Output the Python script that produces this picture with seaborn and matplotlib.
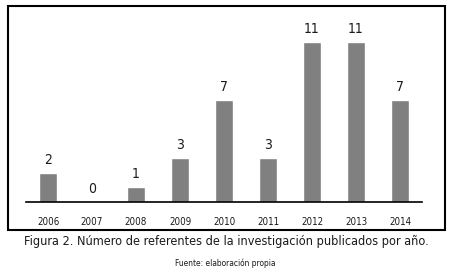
import matplotlib
matplotlib.use("Agg")
import matplotlib.pyplot as plt
import seaborn as sns
import pandas as pd
from matplotlib.patches import Rectangle

years = ["2006", "2007", "2008", "2009", "2010", "2011", "2012", "2013", "2014"]
counts = [2, 0, 1, 3, 7, 3, 11, 11, 7]

sns.set_style("white")
plt.rcParams['font.family'] = ['DejaVu Sans']
plt.rcParams['font.stretch'] = 'condensed'

W, H = 449, 278
fig = plt.figure(figsize=(W/100, H/100), dpi=100)
left, right = 26, 422
base, top = 202, 20
ax = fig.add_axes([left/W, (H-base)/H, (right-left)/W, (base-top)/H])

df = pd.DataFrame({"year": years, "count": counts})
sns.barplot(data=df, x="year", y="count", color="#808080", saturation=1,
            width=0.39, ax=ax)
ax.set_xlim(-0.5, len(years)-0.5)
ax.set_ylim(0, 182/14.55)
for i, v in enumerate(counts):
    ax.text(i, v + 0.9, str(v), ha="center", va="center", fontsize=10, color="#1a1a1a")
ax.set_xlabel("")
ax.set_ylabel("")
ax.set_yticks([])
ax.tick_params(axis="x", length=0, pad=11, labelsize=7, labelcolor="#1a1a1a")
for s in ["top", "right", "left"]:
    ax.spines[s].set_visible(False)
ax.spines["bottom"].set_color("black")
ax.spines["bottom"].set_linewidth(1.2)

fig.patches.append(Rectangle((8/W, (H-230)/H), (445-8)/W, (230-6)/H,
                             transform=fig.transFigure, fill=False,
                             edgecolor="black", linewidth=1.5))
fig.text(226/W, (H-241)/H, "Figura 2. Número de referentes de la investigación publicados por año.",
         ha="center", va="center", fontsize=9.1, color="#1a1a1a")
fig.text(225/W, (H-263)/H, "Fuente: elaboración propia",
         ha="center", va="center", fontsize=6, color="#1a1a1a")

fig.savefig("out.png", dpi=100)
